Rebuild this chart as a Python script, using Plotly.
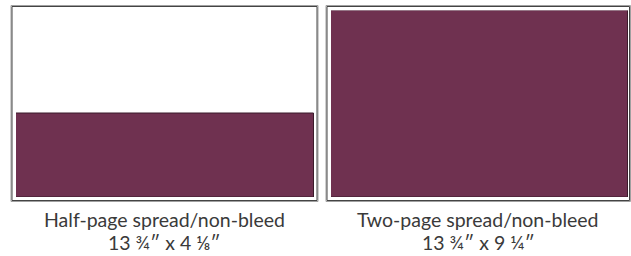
import plotly.graph_objects as go

# Data (inches)
panels = ["Half-page spread/non-bleed", "Two-page spread/non-bleed"]
size_labels = ["13 ¾″ x 4 ⅛″", "13 ¾″ x 9 ¼″"]
ad_widths = [13.75, 13.75]
ad_heights = [4.125, 9.25]
page_width = 13.75
page_height = 9.25

W, H = 631, 256
FILL = "#6f3150"
EDGE = "#3a1a2a"
FONT = dict(size=19.5, color="#3a3a3a", family="Lato")

# pixel layout of the two panels
x_dom_px = [(16, 314), (331, 628)]
y_bot_px, y_top_px = 197, 10.5
frame_px = [(11.5, 317.5), (326.5, 630)]
frame_y_px = (6, 201)

fig = go.Figure()
shapes = []
annotations = []
for i in range(2):
    xa = "x" if i == 0 else "x2"
    ya = "y" if i == 0 else "y2"
    fig.add_trace(go.Bar(
        x=[ad_widths[i] / 2], y=[ad_heights[i]], width=[ad_widths[i]],
        marker=dict(color=FILL, line=dict(color=EDGE, width=1)),
        xaxis=xa, yaxis=ya, showlegend=False, hoverinfo="skip"))
    fx0, fx1 = frame_px[i]
    fy_top, fy_bot = frame_y_px
    shapes.append(dict(type="rect", xref="paper", yref="paper",
                       x0=(fx0 - 0.5) / W, x1=(fx1 + 0.5) / W,
                       y0=1 - (fy_bot + 0.5) / H, y1=1 - (fy_top - 0.5) / H,
                       line=dict(color="#a0a0a0", width=1), layer="below"))
    shapes.append(dict(type="rect", xref="paper", yref="paper",
                       x0=(fx0 + 0.5) / W, x1=(fx1 - 0.5) / W,
                       y0=1 - (fy_bot - 0.5) / H, y1=1 - (fy_top + 0.5) / H,
                       line=dict(color="#444444", width=1), layer="below"))
    cx = (fx0 + fx1) / 2 / W
    annotations.append(dict(text=panels[i], xref="paper", yref="paper",
                            x=cx, y=1 - 219 / H, showarrow=False,
                            xanchor="center", yanchor="middle", font=FONT))
    annotations.append(dict(text=size_labels[i], xref="paper", yref="paper",
                            x=cx, y=1 - 242 / H, showarrow=False,
                            xanchor="center", yanchor="middle", font=FONT))

ax_common = dict(visible=False, showgrid=False, zeroline=False, fixedrange=True)
ydom = [1 - y_bot_px / H, 1 - y_top_px / H]
fig.update_layout(
    width=W, height=H,
    margin=dict(l=0, r=0, t=0, b=0),
    paper_bgcolor="white", plot_bgcolor="rgba(0,0,0,0)",
    bargap=0,
    xaxis=dict(domain=[x_dom_px[0][0] / W, x_dom_px[0][1] / W], range=[0, page_width], **ax_common),
    xaxis2=dict(domain=[x_dom_px[1][0] / W, x_dom_px[1][1] / W], range=[0, page_width], **ax_common),
    yaxis=dict(domain=ydom, range=[0, page_height], anchor="x", **ax_common),
    yaxis2=dict(domain=ydom, range=[0, page_height], anchor="x2", **ax_common),
    shapes=shapes, annotations=annotations,
)
fig.write_html("out.html", config={"displayModeBar": False},
               post_script="document.body.style.margin='0';document.body.style.padding='0';")
